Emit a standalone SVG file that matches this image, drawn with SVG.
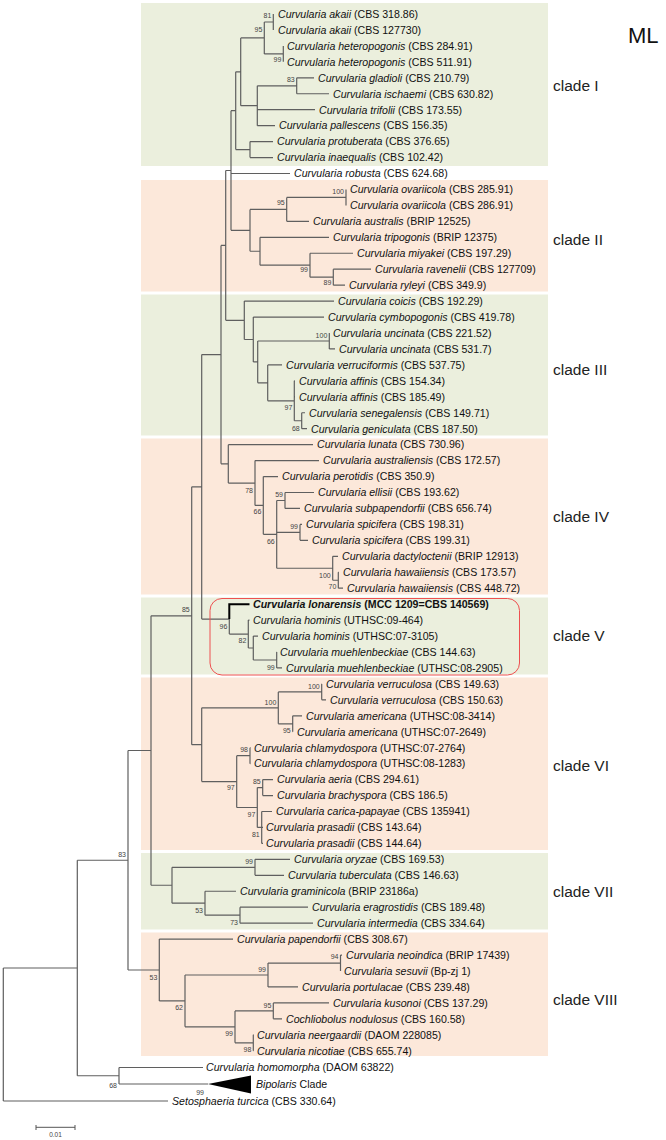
<svg xmlns="http://www.w3.org/2000/svg" width="666" height="1140" viewBox="0 0 666 1140">
<style>
.g{fill:#EBEFDD}.p{fill:#FCE8DA}
.lf{font-family:"Liberation Sans",Arial,sans-serif;font-size:10.6px;fill:#111}
.i{font-style:italic}
.bs{font-family:"Liberation Sans",Arial,sans-serif;font-size:7px;fill:#444;text-anchor:end}
.cl{font-family:"Liberation Sans",Arial,sans-serif;font-size:15.5px;fill:#222}
.br{fill:none;stroke:#5f5f5f;stroke-width:1.2}
</style>
<rect width="666" height="1140" fill="#fff"/>
<g id="clade-boxes">
<rect class="g" x="141" y="3" width="407" height="163"/>
<rect class="p" x="141" y="180" width="407" height="111.5"/>
<rect class="g" x="141" y="294.5" width="407" height="141"/>
<rect class="p" x="141" y="438.5" width="407" height="156"/>
<rect class="g" x="141" y="597.5" width="407" height="77"/>
<rect class="p" x="141" y="677.5" width="407" height="172.5"/>
<rect class="g" x="141" y="853" width="407" height="76.5"/>
<rect class="p" x="141" y="932.5" width="407" height="123.5"/>
</g>
<g id="connectors">
<path class="br" d="
M273.3,14V29.95 M283.3,45.9V61.85
M264.3,21.98V53.88 M264.3,21.98H273.3 M264.3,53.88H283.3
M296.7,77.8V93.75 M296.7,77.8H314 M296.7,93.75H329
M257.3,85.78V125.65 M257.3,85.78H296.7 M257.3,109.7H315 M257.3,125.65H275
M240.7,37.93V105.7 M240.7,37.93H264.3 M240.7,105.7H257.3
M250,141.6V157.55 M250,141.6H273 M250,157.55H273
M235.7,71.8V149.58 M235.7,71.8H240.7 M235.7,149.58H250
M231,110.7V230.32 M231,110.7H235.7 M231,173.5H290 M231,230.32H250
M346,189.45V205.4
M286.7,197.43V221.35 M286.7,197.43H346 M286.7,221.35H309
M333.3,269.2V285.15 M333.3,269.2H371 M333.3,285.15H345
M310,253.25V277.18 M310,253.25H353 M310,277.18H333.3
M260,237.3V265.2 M260,237.3H329 M260,265.2H310
M250,209.39V251.25 M250,209.39H286.7 M250,251.25H260
M329.3,333V348.95 M329.3,348.95H335
M301.7,412.75V428.7 M301.7,412.75H305 M301.7,428.7H307
M294.3,380.85V420.73 M294.3,380.85H295 M294.3,396.8H295 M294.3,420.73H301.7
M267.7,364.9V400.79 M267.7,364.9H282 M267.7,400.79H294.3
M257.7,340.98V382.85 M257.7,340.98H329.3 M257.7,382.85H267.7
M253.3,317.05V361.9 M253.3,317.05H324 M253.3,361.9H257.7
M244.3,301.1V339.5 M244.3,301.1H334 M244.3,339.5H253.3
M225.7,170.5V320.3 M225.7,170.5H231 M225.7,320.3H244.3
M338.3,572.25V588.2 M338.3,572.25H339 M338.3,588.2H343
M332.7,556.3V580.23 M332.7,556.3H338 M332.7,580.23H338.3
M300,524.4V540.35 M300,524.4H302 M300,540.35H308
M285,492.5V508.45 M285,492.5H314 M285,508.45H300
M276.7,500.48V568.26 M276.7,500.48H285 M276.7,532.38H300 M276.7,568.26H332.7
M263.3,476.55V534.37 M263.3,476.55H278 M263.3,534.37H276.7
M255,460.6V505.46 M255,460.6H319 M255,505.46H263.3
M228.3,444.65V483.03 M228.3,444.65H313 M228.3,483.03H255
M221,245.4V463.84 M221,245.4H225.7 M221,463.84H228.3
M276.7,652V667.95 M276.7,652H277 M276.7,667.95H282
M253.3,636.05V659.98 M253.3,636.05H258 M253.3,659.98H276.7
M248.3,620.1V648 M248.3,620.1H249.5 M248.3,648H253.3
M229.3,619.1V634.05 M229.3,634.05H248.3
M201.7,354.62V619.1 M201.7,354.62H221 M201.7,619.1H229.3
M321.7,683.9V699.85 M321.7,683.9H322 M321.7,699.85H326
M292.7,715.8V731.75 M292.7,715.8H302 M292.7,731.75H293
M278.3,691.88V723.78 M278.3,691.88H321.7 M278.3,723.78H292.7
M250,747.7V763.65 M250,747.7H250.5 M250,763.65H250.5
M262.7,779.6V795.55 M262.7,779.6H273 M262.7,795.55H273
M261.7,811.5V843.4 M261.7,811.5H272 M261.7,827.45H263 M261.7,843.4H263
M257.3,787.58V827.45 M257.3,787.58H262.7 M257.3,827.45H261.7
M236.7,755.68V807.5 M236.7,755.68H250 M236.7,807.5H257.3
M201.7,707.83V781.6 M201.7,707.83H278.3 M201.7,781.6H236.7
M191.7,486.86V744.7 M191.7,486.86H201.7 M191.7,744.7H201.7
M255,859.35V875.3 M255,859.35H290 M255,875.3H284
M240,907.2V923.15 M240,907.2H308 M240,923.15H313
M205,891.25V915.18 M205,891.25H236 M205,915.18H240
M172,867.33V903.2 M172,867.33H255 M172,903.2H205
M151,615.8V885.27 M151,615.8H191.7 M151,885.27H172
M340.5,955.05V971 M340.5,955.05H342
M268,963.03V986.95 M268,963.03H340.5 M268,986.95H298
M273.3,1002.9V1018.85 M273.3,1002.9H329 M273.3,1018.85H282
M253.3,1034.8V1050.75 M253.3,1034.8H253.8 M253.3,1050.75H253.8
M235,1010.88V1042.78 M235,1010.88H273.3 M235,1042.78H253.3
M185,974.99V1026.83 M185,974.99H268 M185,1026.83H235
M159.3,939.1V1000.9 M159.3,939.1H233 M159.3,1000.9H185
M128,750.5V970 M128,750.5H151 M128,970H159.3
M119,1067.5V1084 M119,1067.5H203 M119,1084H208
M77.3,860.25V1075.75 M77.3,860.25H128 M77.3,1075.75H119
M3.3,968V1101 M3.3,968H77.3 M3.3,1101H168"/>
<path d="M229.3,619.1V604.15H249.5" fill="none" stroke="#000" stroke-width="2"/>
<polygon points="208,1084 251,1075.5 251,1093.5" fill="#000"/>
</g>
<g id="support">
<text class="bs" x="271.3" y="17.5">81</text>
<text class="bs" x="262.3" y="32.3">95</text>
<text class="bs" x="281.3" y="62.3">99</text>
<text class="bs" x="294.7" y="82">83</text>
<text class="bs" x="344" y="194">100</text>
<text class="bs" x="284.7" y="205">95</text>
<text class="bs" x="308" y="272">99</text>
<text class="bs" x="331.3" y="285">89</text>
<text class="bs" x="327.3" y="338">100</text>
<text class="bs" x="292.3" y="410">97</text>
<text class="bs" x="299.7" y="431">68</text>
<text class="bs" x="253" y="493">78</text>
<text class="bs" x="261.3" y="514">66</text>
<text class="bs" x="283" y="496.5">59</text>
<text class="bs" x="298" y="529">99</text>
<text class="bs" x="274.7" y="543.5">66</text>
<text class="bs" x="330.7" y="577.5">100</text>
<text class="bs" x="336.3" y="588.5">70</text>
<text class="bs" x="189.7" y="612">85</text>
<text class="bs" x="227.3" y="628.5">96</text>
<text class="bs" x="246.3" y="642.5">82</text>
<text class="bs" x="274.7" y="669.5">99</text>
<text class="bs" x="319.7" y="689">100</text>
<text class="bs" x="276.3" y="705">100</text>
<text class="bs" x="290.7" y="732.5">95</text>
<text class="bs" x="248" y="752">98</text>
<text class="bs" x="260.7" y="784">85</text>
<text class="bs" x="234.7" y="790">97</text>
<text class="bs" x="255.3" y="816.5">97</text>
<text class="bs" x="259.7" y="836.5">81</text>
<text class="bs" x="253" y="864">99</text>
<text class="bs" x="203" y="913">53</text>
<text class="bs" x="238" y="925">73</text>
<text class="bs" x="338.5" y="959">94</text>
<text class="bs" x="266" y="972">99</text>
<text class="bs" x="271.3" y="1008">95</text>
<text class="bs" x="233" y="1036">99</text>
<text class="bs" x="251.3" y="1052">98</text>
<text class="bs" x="183" y="1010">62</text>
<text class="bs" x="157.3" y="980">53</text>
<text class="bs" x="126" y="857">83</text>
<text class="bs" x="117" y="1087.5">68</text>
<text class="bs" x="204" y="1095">99</text>
</g>
<g id="leaves">
<g id="t00"><text class="lf" x="278" y="17.8"><tspan class="i">Curvularia akaii</tspan> (CBS 318.86)</text></g>
<g id="t01"><text class="lf" x="278" y="33.75"><tspan class="i">Curvularia akaii</tspan> (CBS 127730)</text></g>
<g id="t02"><text class="lf" x="287" y="49.7"><tspan class="i">Curvularia heteropogonis</tspan> (CBS 284.91)</text></g>
<g id="t03"><text class="lf" x="287" y="65.65"><tspan class="i">Curvularia heteropogonis</tspan> (CBS 511.91)</text></g>
<g id="t04"><text class="lf" x="318" y="81.6"><tspan class="i">Curvularia gladioli</tspan> (CBS 210.79)</text></g>
<g id="t05"><text class="lf" x="333" y="97.55"><tspan class="i">Curvularia ischaemi</tspan> (CBS 630.82)</text></g>
<g id="t06"><text class="lf" x="319" y="113.5"><tspan class="i">Curvularia trifolii</tspan> (CBS 173.55)</text></g>
<g id="t07"><text class="lf" x="279" y="129.45"><tspan class="i">Curvularia pallescens</tspan> (CBS 156.35)</text></g>
<g id="t08"><text class="lf" x="277" y="145.4"><tspan class="i">Curvularia protuberata</tspan> (CBS 376.65)</text></g>
<g id="t09"><text class="lf" x="277" y="161.35"><tspan class="i">Curvularia inaequalis</tspan> (CBS 102.42)</text></g>
<g id="t10"><text class="lf" x="294" y="177.3"><tspan class="i">Curvularia robusta</tspan> (CBS 624.68)</text></g>
<g id="t11"><text class="lf" x="350" y="193.25"><tspan class="i">Curvularia ovariicola</tspan> (CBS 285.91)</text></g>
<g id="t12"><text class="lf" x="350" y="209.2"><tspan class="i">Curvularia ovariicola</tspan> (CBS 286.91)</text></g>
<g id="t13"><text class="lf" x="313" y="225.15"><tspan class="i">Curvularia australis</tspan> (BRIP 12525)</text></g>
<g id="t14"><text class="lf" x="333" y="241.1"><tspan class="i">Curvularia tripogonis</tspan> (BRIP 12375)</text></g>
<g id="t15"><text class="lf" x="357" y="257.05"><tspan class="i">Curvularia miyakei</tspan> (CBS 197.29)</text></g>
<g id="t16"><text class="lf" x="375" y="273"><tspan class="i">Curvularia ravenelii</tspan> (CBS 127709)</text></g>
<g id="t17"><text class="lf" x="349" y="288.95"><tspan class="i">Curvularia ryleyi</tspan> (CBS 349.9)</text></g>
<g id="t18"><text class="lf" x="338" y="304.9"><tspan class="i">Curvularia coicis</tspan> (CBS 192.29)</text></g>
<g id="t19"><text class="lf" x="328" y="320.85"><tspan class="i">Curvularia cymbopogonis</tspan> (CBS 419.78)</text></g>
<g id="t20"><text class="lf" x="333" y="336.8"><tspan class="i">Curvularia uncinata</tspan> (CBS 221.52)</text></g>
<g id="t21"><text class="lf" x="339" y="352.75"><tspan class="i">Curvularia uncinata</tspan> (CBS 531.7)</text></g>
<g id="t22"><text class="lf" x="286" y="368.7"><tspan class="i">Curvularia verruciformis</tspan> (CBS 537.75)</text></g>
<g id="t23"><text class="lf" x="299" y="384.65"><tspan class="i">Curvularia affinis</tspan> (CBS 154.34)</text></g>
<g id="t24"><text class="lf" x="299" y="400.6"><tspan class="i">Curvularia affinis</tspan> (CBS 185.49)</text></g>
<g id="t25"><text class="lf" x="309" y="416.55"><tspan class="i">Curvularia senegalensis</tspan> (CBS 149.71)</text></g>
<g id="t26"><text class="lf" x="311" y="432.5"><tspan class="i">Curvularia geniculata</tspan> (CBS 187.50)</text></g>
<g id="t27"><text class="lf" x="317" y="448.45"><tspan class="i">Curvularia lunata</tspan> (CBS 730.96)</text></g>
<g id="t28"><text class="lf" x="323" y="464.4"><tspan class="i">Curvularia australiensis</tspan> (CBS 172.57)</text></g>
<g id="t29"><text class="lf" x="282" y="480.35"><tspan class="i">Curvularia perotidis</tspan> (CBS 350.9)</text></g>
<g id="t30"><text class="lf" x="318" y="496.3"><tspan class="i">Curvularia ellisii</tspan> (CBS 193.62)</text></g>
<g id="t31"><text class="lf" x="304" y="512.25"><tspan class="i">Curvularia subpapendorfii</tspan> (CBS 656.74)</text></g>
<g id="t32"><text class="lf" x="306" y="528.2"><tspan class="i">Curvularia spicifera</tspan> (CBS 198.31)</text></g>
<g id="t33"><text class="lf" x="312" y="544.15"><tspan class="i">Curvularia spicifera</tspan> (CBS 199.31)</text></g>
<g id="t34"><text class="lf" x="342" y="560.1"><tspan class="i">Curvularia dactyloctenii</tspan> (BRIP 12913)</text></g>
<g id="t35"><text class="lf" x="343" y="576.05"><tspan class="i">Curvularia hawaiiensis</tspan> (CBS 173.57)</text></g>
<g id="t36"><text class="lf" x="347" y="592"><tspan class="i">Curvularia hawaiiensis</tspan> (CBS 448.72)</text></g>
<g id="t37"><text class="lf" x="253" y="607.95" font-weight="bold"><tspan class="i">Curvularia lonarensis</tspan> (MCC 1209=CBS 140569)</text></g>
<g id="t38"><text class="lf" x="253" y="623.9"><tspan class="i">Curvularia hominis</tspan> (UTHSC:09-464)</text></g>
<g id="t39"><text class="lf" x="262" y="639.85"><tspan class="i">Curvularia hominis</tspan> (UTHSC:07-3105)</text></g>
<g id="t40"><text class="lf" x="280" y="655.8"><tspan class="i">Curvularia muehlenbeckiae</tspan> (CBS 144.63)</text></g>
<g id="t41"><text class="lf" x="286" y="671.75"><tspan class="i">Curvularia muehlenbeckiae</tspan> (UTHSC:08-2905)</text></g>
<g id="t42"><text class="lf" x="326" y="687.7"><tspan class="i">Curvularia verruculosa</tspan> (CBS 149.63)</text></g>
<g id="t43"><text class="lf" x="330" y="703.65"><tspan class="i">Curvularia verruculosa</tspan> (CBS 150.63)</text></g>
<g id="t44"><text class="lf" x="306" y="719.6"><tspan class="i">Curvularia americana</tspan> (UTHSC:08-3414)</text></g>
<g id="t45"><text class="lf" x="297" y="735.55"><tspan class="i">Curvularia americana</tspan> (UTHSC:07-2649)</text></g>
<g id="t46"><text class="lf" x="254" y="751.5"><tspan class="i">Curvularia chlamydospora</tspan> (UTHSC:07-2764)</text></g>
<g id="t47"><text class="lf" x="254" y="767.45"><tspan class="i">Curvularia chlamydospora</tspan> (UTHSC:08-1283)</text></g>
<g id="t48"><text class="lf" x="277" y="783.4"><tspan class="i">Curvularia aeria</tspan> (CBS 294.61)</text></g>
<g id="t49"><text class="lf" x="277" y="799.35"><tspan class="i">Curvularia brachyspora</tspan> (CBS 186.5)</text></g>
<g id="t50"><text class="lf" x="276" y="815.3"><tspan class="i">Curvularia carica-papayae</tspan> (CBS 135941)</text></g>
<g id="t51"><text class="lf" x="266" y="831.25"><tspan class="i">Curvularia prasadii</tspan> (CBS 143.64)</text></g>
<g id="t52"><text class="lf" x="266" y="847.2"><tspan class="i">Curvularia prasadii</tspan> (CBS 144.64)</text></g>
<g id="t53"><text class="lf" x="294" y="863.15"><tspan class="i">Curvularia oryzae</tspan> (CBS 169.53)</text></g>
<g id="t54"><text class="lf" x="288" y="879.1"><tspan class="i">Curvularia tuberculata</tspan> (CBS 146.63)</text></g>
<g id="t55"><text class="lf" x="240" y="895.05"><tspan class="i">Curvularia graminicola</tspan> (BRIP 23186a)</text></g>
<g id="t56"><text class="lf" x="312" y="911"><tspan class="i">Curvularia eragrostidis</tspan> (CBS 189.48)</text></g>
<g id="t57"><text class="lf" x="317" y="926.95"><tspan class="i">Curvularia intermedia</tspan> (CBS 334.64)</text></g>
<g id="t58"><text class="lf" x="237" y="942.9"><tspan class="i">Curvularia papendorfii</tspan> (CBS 308.67)</text></g>
<g id="t59"><text class="lf" x="346" y="958.85"><tspan class="i">Curvularia neoindica</tspan> (BRIP 17439)</text></g>
<g id="t60"><text class="lf" x="344" y="974.8"><tspan class="i">Curvularia sesuvii</tspan> (Bp-zj 1)</text></g>
<g id="t61"><text class="lf" x="302" y="990.75"><tspan class="i">Curvularia portulacae</tspan> (CBS 239.48)</text></g>
<g id="t62"><text class="lf" x="333" y="1006.7"><tspan class="i">Curvularia kusonoi</tspan> (CBS 137.29)</text></g>
<g id="t63"><text class="lf" x="286" y="1022.65"><tspan class="i">Cochliobolus nodulosus</tspan> (CBS 160.58)</text></g>
<g id="t64"><text class="lf" x="257" y="1038.6"><tspan class="i">Curvularia neergaardii</tspan> (DAOM 228085)</text></g>
<g id="t65"><text class="lf" x="257" y="1054.55"><tspan class="i">Curvularia nicotiae</tspan> (CBS 655.74)</text></g>
<g id="t66"><text class="lf" x="206" y="1071.3"><tspan class="i">Curvularia homomorpha</tspan> (DAOM 63822)</text></g>
<g id="t67"><text class="lf" x="256" y="1087.8"><tspan class="i">Bipolaris</tspan> Clade</text></g>
<g id="t68"><text class="lf" x="172" y="1104.8"><tspan class="i">Setosphaeria turcica</tspan> (CBS 330.64)</text></g>
</g>
<g id="clade-V-highlight"><rect x="210" y="598.5" width="309.5" height="76.5" rx="12" fill="none" stroke="#EE5050" stroke-width="1"/></g>
<g id="clade-labels">
<text class="cl" x="553" y="90.5">clade I</text>
<text class="cl" x="553" y="245">clade II</text>
<text class="cl" x="553" y="375">clade III</text>
<text class="cl" x="553" y="522">clade IV</text>
<text class="cl" x="553" y="641">clade V</text>
<text class="cl" x="553" y="771">clade VI</text>
<text class="cl" x="553" y="897">clade VII</text>
<text class="cl" x="553" y="1005">clade VIII</text>
</g>
<g id="title"><text x="628" y="43" font-family="'Liberation Sans',Arial,sans-serif" font-size="22" fill="#111">ML</text></g>
<g id="scale-bar">
<path d="M36,1127.3H75 M36,1125V1130 M75,1125V1130" fill="none" stroke="#555" stroke-width="1"/>
<text x="55.5" y="1136.5" font-family="'Liberation Sans',Arial,sans-serif" font-size="6.5" fill="#444" text-anchor="middle">0.01</text>
</g>
</svg>
